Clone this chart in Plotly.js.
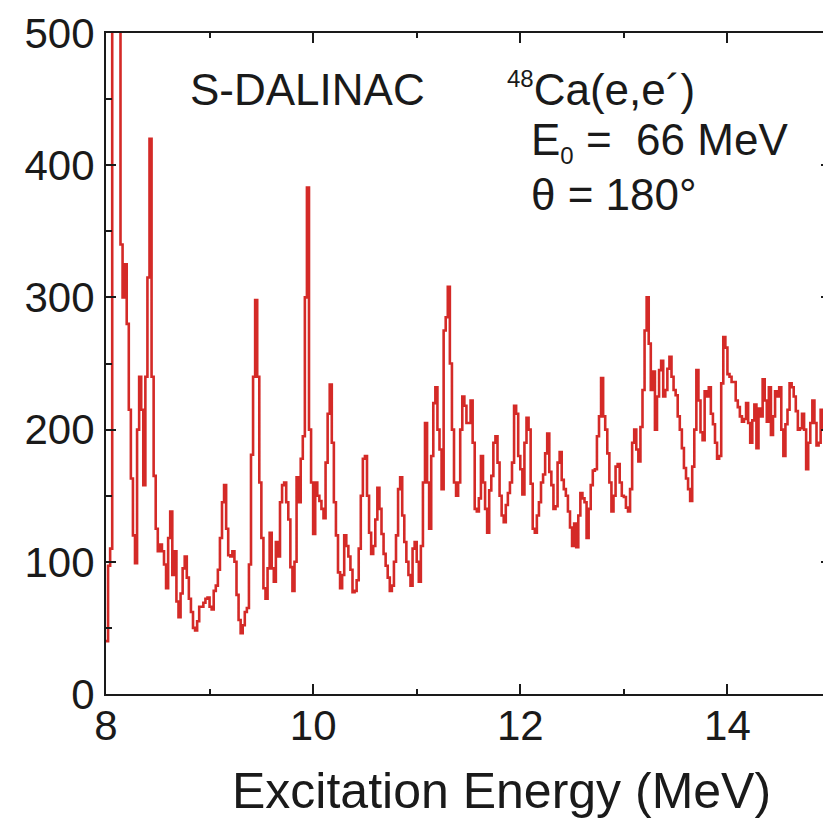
<!DOCTYPE html>
<html>
<head>
<meta charset="utf-8">
<script src="https://cdn.plot.ly/plotly-3.0.1.min.js"></script>
<style>
  html, body { margin: 0; padding: 0; background: #ffffff; overflow: hidden; }
  #chart { width: 840px; height: 824px; }
</style>
</head>
<body>
<div id="chart"></div>
<script>
// 48Ca(e,e') spectrum, counts per 20 keV bin, starting at 8.00 MeV
const binStart = 8.0;   // MeV, lower edge of the first bin
const binWidth = 0.02;  // MeV

const counts8 = [
  40, 97, 110, 700, 900, 850, 700, 340, 300, 325,
  280, 215, 163, 120, 99, 200, 240, 215, 158, 240,
  315, 420, 240, 165, 125, 108, 113, 108, 98, 80,
  118, 138, 90, 108, 70, 58, 76, 95, 104, 88,
  72, 62, 50, 48, 55, 66, 66, 69, 72, 73
];
const counts9 = [
  66, 64, 78, 82, 94, 118, 145, 158, 125, 105,
  104, 108, 100, 75, 56, 46, 52, 62, 65, 98,
  181, 240, 298, 240, 160, 118, 80, 72, 95, 122,
  95, 85, 115, 104, 145, 158, 160, 145, 132, 96,
  78, 100, 164, 145, 178, 195, 300, 383, 200, 160
];
const counts10 = [
  121, 160, 150, 146, 140, 133, 175, 212, 234, 190,
  145, 120, 92, 80, 90, 120, 112, 104, 94, 77,
  78, 86, 110, 150, 178, 180, 150, 122, 106, 112,
  132, 156, 140, 121, 106, 97, 88, 78, 82, 100,
  120, 155, 164, 135, 115, 100, 90, 82, 110, 115
];
const counts11 = [
  100, 85, 112, 160, 205, 160, 125, 180, 220, 232,
  200, 185, 155, 275, 285, 308, 250, 200, 160, 150,
  160, 200, 225, 218, 205, 205, 222, 190, 140, 138,
  148, 180, 160, 140, 122, 154, 165, 190, 195, 175,
  150, 135, 130, 143, 152, 160, 175, 218, 212, 180
];
const counts12 = [
  170, 151, 190, 209, 200, 159, 125, 122, 135, 145,
  160, 166, 182, 197, 168, 158, 140, 142, 175, 183,
  162, 155, 150, 138, 126, 112, 129, 111, 135, 152,
  148, 145, 118, 140, 158, 169, 170, 195, 210, 239,
  210, 200, 182, 160, 138, 150, 172, 174, 160, 150
];
const counts13 = [
  149, 141, 138, 155, 190, 200, 185, 176, 202, 230,
  275, 300, 265, 230, 244, 200, 225, 245, 252, 225,
  230, 246, 255, 240, 230, 226, 210, 200, 186, 171,
  163, 155, 146, 172, 200, 245, 222, 198, 192, 229,
  225, 232, 212, 204, 190, 178, 180, 235, 270, 262
];
const counts14 = [
  242, 240, 236, 236, 222, 217, 210, 206, 208, 220,
  205, 190, 207, 219, 186, 216, 210, 238, 222, 206,
  232, 196, 210, 229, 225, 232, 200, 180, 204, 215,
  235, 232, 225, 214, 200, 201, 212, 200, 170, 190,
  205, 222, 205, 188, 190, 215, 200, 205, 210, 205
];

const xTickVals = [8, 10, 12, 14];
const xTickText = ['8', '10', '12', '14'];
const yTickVals = [0, 100, 200, 300, 400, 500];
const yTickText = ['0', '100', '200', '300', '400', '500'];

const counts = [].concat(counts8, counts9, counts10, counts11, counts12, counts13, counts14);

const FONT = 'Liberation Sans, Arial, Helvetica, sans-serif';
const INK = '#1a1a1a';

const trace = {
  type: 'scatter',
  mode: 'lines',
  x0: binStart,
  dx: binWidth,
  y: counts,
  line: { color: '#d42a27', width: 2.6, shape: 'hv' },
  hoverinfo: 'x+y'
};

const axisCommon = {
  showgrid: false,
  zeroline: false,
  showline: true,
  linecolor: INK,
  linewidth: 2,
  ticks: 'inside',
  ticklen: 10,
  tickwidth: 2,
  tickcolor: INK,
  mirror: 'allticks',
  tickfont: { family: FONT, size: 42, color: INK }
};

const layout = {
  width: 840,
  height: 824,
  margin: { l: 106, r: 9, t: 33, b: 130 },
  paper_bgcolor: '#ffffff',
  plot_bgcolor: '#ffffff',
  showlegend: false,
  xaxis: Object.assign({}, axisCommon, {
    range: [8, 15],
    tickmode: 'array',
    tickvals: xTickVals,
    ticktext: xTickText,
    ticklabelstandoff: -6,
    minor: { dtick: 1, tick0: 9, ticks: 'inside', ticklen: 5, tickwidth: 2, tickcolor: INK }
  }),
  yaxis: Object.assign({}, axisCommon, {
    range: [0, 500],
    tickmode: 'array',
    tickvals: yTickVals,
    ticktext: yTickText,
    ticklabelstandoff: 1,
    minor: { dtick: 50, tick0: 50, ticks: 'inside', ticklen: 6, tickwidth: 2, tickcolor: INK }
  }),
  annotations: [
    {
      // x-axis title, centred under the spectrum
      xref: 'paper', yref: 'paper', x: 0.545, y: -0.146,
      xanchor: 'center', yanchor: 'middle', showarrow: false,
      text: 'Excitation Energy (MeV)', font: { family: FONT, size: 50, color: INK }
    },
    {
      xref: 'paper', yref: 'paper', x: 0.113, y: 0.914,
      xanchor: 'left', yanchor: 'middle', showarrow: false,
      text: 'S-DALINAC', font: { family: FONT, size: 44, color: INK }
    },
    {
      xref: 'paper', yref: 'paper', x: 0.550, y: 0.914,
      xanchor: 'left', yanchor: 'middle', showarrow: false,
      text: '<sup><span style="font-size:24px">48</span></sup>Ca(e,e\u00b4)',
      font: { family: FONT, size: 44, color: INK }
    },
    {
      xref: 'paper', yref: 'paper', x: 0.584, y: 0.835,
      xanchor: 'left', yanchor: 'middle', showarrow: false,
      text: 'E<sub><span style="font-size:24px">0</span></sub> =\u00a0 66 MeV',
      font: { family: FONT, size: 44, color: INK }
    },
    {
      xref: 'paper', yref: 'paper', x: 0.584, y: 0.755,
      xanchor: 'left', yanchor: 'middle', showarrow: false,
      text: '\u03b8 = 180\u00b0', font: { family: FONT, size: 44, color: INK }
    }
  ]
};

Plotly.newPlot('chart', [trace], layout, { displayModeBar: false, staticPlot: true });
</script>
</body>
</html>
